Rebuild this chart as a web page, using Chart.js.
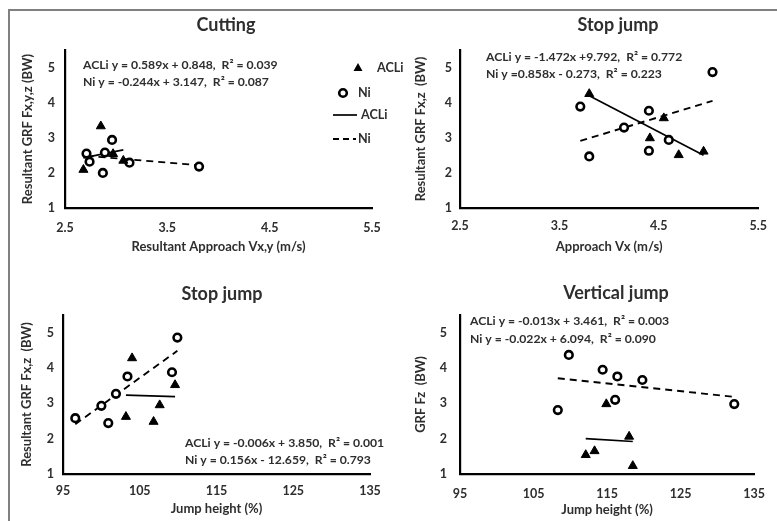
<!DOCTYPE html>
<html>
<head>
<meta charset="utf-8">
<script src="https://cdn.jsdelivr.net/npm/chart.js@4/dist/chart.umd.min.js"></script>
<style>
  html, body { margin: 0; padding: 0; background: #fff; }
  #fig { position: relative; width: 777px; height: 521px; overflow: hidden; }
  #frame { position: absolute; left: 8px; top: 9px; width: 900px; height: 700px;
           border-top: 2px solid #808080; border-left: 2px solid #808080; }
  canvas { position: absolute; }
</style>
</head>
<body>
<div id="fig">
  <div id="frame"></div>
  <canvas id="c1" width="410" height="260" style="left:0;top:0"></canvas>
  <canvas id="c2" width="389" height="260" style="left:388px;top:0"></canvas>
  <canvas id="c3" width="400" height="261" style="left:0;top:260px"></canvas>
  <canvas id="c4" width="389" height="261" style="left:388px;top:260px"></canvas>
</div>
<script>
// --- data ---
// Cutting
const cutAcliX = [2.68, 2.85, 2.97, 3.07];
const cutAcliY = [2.09, 3.33, 2.54, 2.35];
const cutNiX = [2.71, 2.74, 2.87, 2.89, 2.96, 3.13, 3.81];
const cutNiY = [2.55, 2.32, 2.00, 2.58, 2.94, 2.29, 2.18];
// Stop jump vs approach speed
const sjvAcliX = [3.80, 4.55, 4.41, 4.70, 4.95];
const sjvAcliY = [4.25, 3.56, 2.99, 2.51, 2.61];
const sjvNiX = [3.71, 3.80, 4.15, 4.40, 4.40, 4.60, 5.04];
const sjvNiY = [3.89, 2.47, 3.29, 3.77, 2.63, 2.94, 4.87];
// Stop jump vs jump height
const sjhAcliX = [103.2, 104.0, 106.8, 107.6, 109.6];
const sjhAcliY = [2.62, 4.28, 2.48, 2.95, 3.52];
const sjhNiX = [96.6, 100.0, 100.9, 101.9, 103.4, 109.2, 109.9];
const sjhNiY = [2.58, 2.93, 2.44, 3.27, 3.76, 3.88, 4.86];
// Vertical jump
const vjAcliX = [112.1, 113.3, 114.9, 118.0, 118.5];
const vjAcliY = [1.54, 1.65, 2.98, 2.06, 1.23];
const vjNiX = [108.3, 109.8, 114.4, 116.1, 116.4, 119.8, 132.3];
const vjNiY = [2.81, 4.37, 3.95, 3.10, 3.76, 3.66, 2.98];

// trendline equations printed on the figure: [slope, intercept]
const cutTrend = { acli: [0.589, 0.848], ni: [-0.244, 3.147] };
const sjvTrend = { acli: [-1.472, 9.792], ni: [0.858, -0.273] };
const sjhTrend = { acli: [-0.006, 3.850], ni: [0.156, -12.659] };
const vjTrend = { acli: [-0.013, 3.461], ni: [-0.022, 6.094] };

// tick labels
const speedTicks = [2.5, 3.5, 4.5, 5.5];
const heightTicks = [95, 105, 115, 125, 135];
const grfTicks = [1, 2, 3, 4, 5];

const legendLabels = ['ACLi', 'Ni', 'ACLi', 'Ni'];

const cutEq = ['ACLi y = 0.589x + 0.848,  R\u00b2 = 0.039', 'Ni y = -0.244x + 3.147,  R\u00b2 = 0.087'];
const sjvEq = ['ACLi y = -1.472x +9.792,  R\u00b2 = 0.772', 'Ni y =0.858x - 0.273,  R\u00b2 = 0.223'];
const sjhEq = ['ACLi y = -0.006x + 3.850,  R\u00b2 = 0.001', 'Ni y = 0.156x - 12.659,  R\u00b2 = 0.793'];
const vjEq = ['ACLi y = -0.013x + 3.461,  R\u00b2 = 0.003', 'Ni y = -0.022x + 6.094,  R\u00b2 = 0.090'];

// --- styling ---
const FONT = 'Lato, "Open Sans", sans-serif';
const INK = '#2e2e2e';

function pts(xs, ys) {
    return xs.map((x, i) => ({ x: x, y: ys[i] }));
}

// line over the x range of a series, from the printed equation
function trendLine(xs, coef) {
    const a = Math.min(...xs), b = Math.max(...xs);
    return [{ x: a, y: coef[0] * a + coef[1] }, { x: b, y: coef[0] * b + coef[1] }];
}

function makeSets(ax, ay, nx, ny, tr) {
    return [
        { label: 'ACLi', data: pts(ax, ay), pointStyle: 'triangle', pointRadius: 5.2,
          backgroundColor: '#000', borderColor: '#000', borderWidth: 1 },
        { label: 'Ni', data: pts(nx, ny), pointStyle: 'circle', pointRadius: 3.8,
          backgroundColor: '#fff', borderColor: '#000', borderWidth: 2.6 },
        { label: 'ACLi fit', data: trendLine(ax, tr.acli), showLine: true, pointRadius: 0,
          borderColor: '#000', borderWidth: 1.7 },
        { label: 'Ni fit', data: trendLine(nx, tr.ni), showLine: true, pointRadius: 0,
          borderColor: '#000', borderWidth: 1.9, borderDash: [7, 5] }
    ];
}

// titles and regression equations, drawn in canvas coordinates
const panelText = {
    id: 'panelText',
    afterDraw(chart, args, o) {
        const ctx = chart.ctx;
        ctx.save();
        ctx.fillStyle = INK;
        ctx.textBaseline = 'middle';
        ctx.textAlign = 'center';
        ctx.font = 'bold 18px ' + FONT;
        ctx.fillText(o.title, o.titleX, o.titleY);
        ctx.textAlign = 'left';
        ctx.font = 'bold 12.2px ' + FONT;
        o.eqs.forEach((t, i) => ctx.fillText(t, o.eqX, o.eqY + i * o.eqGap));
        ctx.restore();
    }
};

// legend of the first panel
const cutLegend = {
    id: 'cutLegend',
    afterDraw(chart) {
        const ctx = chart.ctx;
        ctx.save();
        ctx.fillStyle = '#000';
        ctx.strokeStyle = '#000';
        // triangle
        ctx.beginPath();
        ctx.moveTo(358, 63);
        ctx.lineTo(362.5, 71);
        ctx.lineTo(353.5, 71);
        ctx.closePath();
        ctx.fill();
        // circle
        ctx.lineWidth = 2.6;
        ctx.beginPath();
        ctx.arc(343, 93, 3.8, 0, Math.PI * 2);
        ctx.stroke();
        // solid line
        ctx.lineWidth = 1.7;
        ctx.beginPath();
        ctx.moveTo(333, 115);
        ctx.lineTo(357, 115);
        ctx.stroke();
        // dashed line
        ctx.setLineDash([6, 4]);
        ctx.lineWidth = 1.9;
        ctx.beginPath();
        ctx.moveTo(333, 139);
        ctx.lineTo(356, 139);
        ctx.stroke();
        ctx.setLineDash([]);
        ctx.fillStyle = INK;
        ctx.font = 'bold 12.6px ' + FONT;
        ctx.textBaseline = 'middle';
        ctx.fillText(legendLabels[0], 377, 68);
        ctx.fillText(legendLabels[1], 358, 93);
        ctx.fillText(legendLabels[2], 361, 115);
        ctx.fillText(legendLabels[3], 358, 139);
        ctx.restore();
    }
};

function axisFont(size) {
    return { family: FONT, size: size, weight: 'bold' };
}

function makeChart(id, p) {
    const plugins = [panelText];
    if (p.legend) plugins.push(cutLegend);
    return new Chart(document.getElementById(id), {
        type: 'scatter',
        data: { datasets: p.sets },
        options: {
            responsive: false,
            animation: false,
            events: [],
            layout: { padding: p.pad },
            plugins: {
                legend: { display: false },
                tooltip: { enabled: false },
                panelText: p.text
            },
            scales: {
                x: {
                    type: 'linear',
                    min: p.xTicks[0],
                    max: p.xTicks[p.xTicks.length - 1],
                    afterBuildTicks: s => { s.ticks = p.xTicks.map(v => ({ value: v })); },
                    afterFit: s => { s.height = p.xH; },
                    grid: { display: false, drawTicks: false },
                    border: { display: true, color: '#000', width: 2.2 },
                    ticks: { color: INK, font: axisFont(12.5), padding: p.xTickPad,
                             maxRotation: 0, autoSkip: false, callback: v => String(v) },
                    title: { display: true, text: p.xTitle, color: INK, font: axisFont(13),
                             padding: 0 }
                },
                y: {
                    type: 'linear',
                    min: 1,
                    max: 5.5,
                    afterBuildTicks: s => { s.ticks = grfTicks.map(v => ({ value: v })); },
                    afterFit: s => { s.width = p.yW; },
                    grid: { display: false, drawTicks: false },
                    border: { display: true, color: '#000', width: 2.2 },
                    ticks: { color: INK, font: axisFont(12.5), padding: p.yTickPad,
                             callback: v => String(v) },
                    title: { display: true, text: p.yTitle, color: INK, font: axisFont(13),
                             padding: 0 }
                }
            }
        },
        plugins: plugins
    });
}

makeChart('c1', {
    sets: makeSets(cutAcliX, cutAcliY, cutNiX, cutNiY, cutTrend),
    xTicks: speedTicks,
    xTitle: 'Resultant Approach Vx,y (m/s)',
    yTitle: 'Resultant GRF Fx,y,z (BW)',
    pad: { left: 20, top: 50, right: 38, bottom: 5 },
    yW: 45, xH: 47, xTickPad: 12, yTickPad: 10,
    legend: true,
    text: { title: 'Cutting', titleX: 226, titleY: 25, eqs: cutEq, eqX: 83, eqY: 65, eqGap: 17 }
});

makeChart('c2', {
    sets: makeSets(sjvAcliX, sjvAcliY, sjvNiX, sjvNiY, sjvTrend),
    xTicks: speedTicks,
    xTitle: 'Approach Vx (m/s)',
    yTitle: 'Resultant GRF Fx,z  (BW)',
    pad: { left: 25, top: 50, right: 11, bottom: 5 },
    yW: 47, xH: 47, xTickPad: 10, yTickPad: 8,
    text: { title: 'Stop jump', titleX: 230, titleY: 25, eqs: sjvEq, eqX: 98, eqY: 57, eqGap: 17 }
});

makeChart('c3', {
    sets: makeSets(sjhAcliX, sjhAcliY, sjhNiX, sjhNiY, sjhTrend),
    xTicks: heightTicks,
    xTitle: 'Jump height (%)',
    yTitle: 'Resultant GRF Fx,z  (BW)',
    pad: { left: 19, top: 55, right: 30, bottom: 4 },
    yW: 44, xH: 43, xTickPad: 9, yTickPad: 9,
    text: { title: 'Stop jump', titleX: 222, titleY: 34, eqs: sjhEq, eqX: 185, eqY: 183, eqGap: 17 }
});

makeChart('c4', {
    sets: makeSets(vjAcliX, vjAcliY, vjNiX, vjNiY, vjTrend),
    xTicks: heightTicks,
    xTitle: 'Jump height (%)',
    yTitle: 'GRF Fz  (BW)',
    pad: { left: 25, top: 55, right: 10, bottom: 3 },
    yW: 47, xH: 44, xTickPad: 12, yTickPad: 13,
    text: { title: 'Vertical jump', titleX: 228, titleY: 33, eqs: vjEq, eqX: 82, eqY: 61, eqGap: 18 }
});
</script>
</body>
</html>
